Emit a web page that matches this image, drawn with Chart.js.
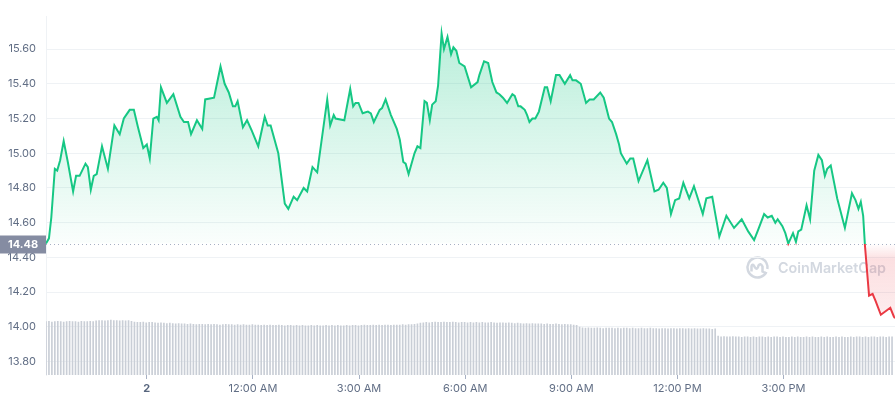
<!DOCTYPE html>
<html>
<head>
<meta charset="utf-8">
<script src="https://cdn.jsdelivr.net/npm/chart.js@4.4.1/dist/chart.umd.min.js"></script>
<style>
  html, body { margin: 0; padding: 0; background: #fff; }
  #wrap { width: 896px; height: 400px; }
</style>
</head>
<body>
<div id="wrap"><canvas id="priceChart" width="896" height="400"></canvas></div>
<script>
// price samples: minutes since start of the 24h window, price in USD
const minutes = [0, 5, 9, 15, 19, 24, 30, 37, 46, 51, 57, 67, 71, 76, 81, 86, 95, 105, 116, 125,
  132, 142, 149, 156, 165, 171, 176, 182, 188, 191, 195, 205, 216, 228, 234, 241, 246, 256, 265, 270,
  285, 296, 303, 310, 317, 321, 325, 334, 341, 349, 360, 371, 376, 381, 394, 405, 411, 420, 426, 437,
  443, 452, 460, 477, 482, 488, 491, 506, 516, 521, 525, 530, 537, 546, 551, 556, 566, 570, 576, 585,
  595, 600, 606, 610, 615, 625, 630, 635, 642, 646, 651, 655, 661, 665, 671, 675, 681, 687, 691, 696,
  701, 710, 721, 732, 735, 743, 750, 757, 764, 769, 775, 782, 791, 795, 801, 805, 812, 816, 820, 825,
  830, 836, 846, 850, 856, 865, 871, 880, 889, 893, 899, 907, 916, 922, 929, 940, 946, 955, 960, 967,
  972, 975, 985, 991, 996, 1005, 1020, 1032, 1039, 1047, 1053, 1060, 1067, 1074, 1081, 1091, 1099, 1114, 1120, 1130,
  1142, 1154, 1167, 1180, 1191, 1201, 1208, 1218, 1224, 1231, 1237, 1241, 1249, 1254, 1259, 1267, 1272, 1276, 1281, 1290,
  1296, 1303, 1310, 1316, 1321, 1325, 1331, 1342, 1355, 1367, 1373, 1378, 1382, 1386, 1389, 1396, 1402, 1407, 1416, 1424,
  1432, 1438, 1440];
const prices = [14.48, 14.51, 14.63, 14.91, 14.90, 14.96, 15.07, 14.95, 14.78, 14.87, 14.87, 14.94, 14.92, 14.79, 14.87, 14.88, 15.04, 14.91, 15.16, 15.11,
  15.20, 15.25, 15.25, 15.15, 15.03, 15.05, 14.97, 15.20, 15.21, 15.19, 15.38, 15.29, 15.34, 15.21, 15.18, 15.18, 15.11, 15.19, 15.14, 15.31,
  15.32, 15.50, 15.40, 15.35, 15.27, 15.27, 15.30, 15.15, 15.19, 15.13, 15.04, 15.21, 15.16, 15.16, 15.00, 14.71, 14.68, 14.75, 14.73, 14.80,
  14.78, 14.92, 14.89, 15.31, 15.16, 15.22, 15.20, 15.19, 15.37, 15.27, 15.29, 15.29, 15.23, 15.24, 15.23, 15.18, 15.25, 15.26, 15.31, 15.22,
  15.14, 15.08, 14.95, 14.94, 14.88, 15.00, 15.04, 15.03, 15.30, 15.29, 15.19, 15.28, 15.30, 15.39, 15.69, 15.60, 15.67, 15.57, 15.61, 15.59,
  15.52, 15.50, 15.38, 15.41, 15.45, 15.53, 15.52, 15.41, 15.35, 15.34, 15.32, 15.29, 15.34, 15.33, 15.27, 15.27, 15.25, 15.22, 15.18, 15.20,
  15.20, 15.24, 15.38, 15.38, 15.30, 15.45, 15.45, 15.40, 15.45, 15.42, 15.42, 15.40, 15.29, 15.31, 15.31, 15.35, 15.32, 15.20, 15.18, 15.11,
  15.05, 15.00, 14.94, 14.97, 14.97, 14.84, 14.96, 14.78, 14.79, 14.83, 14.80, 14.65, 14.73, 14.74, 14.83, 14.74, 14.81, 14.65, 14.74, 14.75,
  14.52, 14.64, 14.57, 14.62, 14.55, 14.50, 14.56, 14.65, 14.63, 14.64, 14.60, 14.62, 14.58, 14.54, 14.48, 14.54, 14.49, 14.55, 14.56, 14.70,
  14.62, 14.90, 14.99, 14.96, 14.87, 14.91, 14.93, 14.74, 14.57, 14.77, 14.73, 14.68, 14.72, 14.64, 14.47, 14.18, 14.19, 14.15, 14.07, 14.09,
  14.11, 14.06, 14.05];
// volume per 5-minute bucket (relative units), 288 buckets
const volumes = [
  1.40, 1.41, 1.39, 1.40, 1.41, 1.40, 1.39, 1.40, 1.41, 1.40, 1.40, 1.39, 1.41, 1.40, 1.40, 1.41, 1.40, 1.42, 1.43, 1.43, 1.42, 1.43, 1.44, 1.43,
  1.43, 1.42, 1.43, 1.42, 1.43, 1.41, 1.39, 1.38, 1.38, 1.39, 1.37, 1.38, 1.38, 1.37, 1.36, 1.37, 1.36, 1.35, 1.36, 1.35, 1.34, 1.35, 1.34, 1.34,
  1.33, 1.34, 1.33, 1.32, 1.33, 1.33, 1.32, 1.33, 1.32, 1.33, 1.32, 1.31, 1.32, 1.33, 1.32, 1.32, 1.31, 1.32, 1.31, 1.32, 1.31, 1.31, 1.32, 1.31,
  1.31, 1.30, 1.31, 1.30, 1.31, 1.30, 1.30, 1.31, 1.30, 1.29, 1.30, 1.30, 1.29, 1.30, 1.29, 1.30, 1.29, 1.29, 1.30, 1.29, 1.30, 1.29, 1.29, 1.30,
  1.29, 1.30, 1.29, 1.30, 1.29, 1.29, 1.30, 1.29, 1.30, 1.30, 1.29, 1.30, 1.31, 1.30, 1.30, 1.31, 1.30, 1.31, 1.30, 1.31, 1.31, 1.30, 1.31, 1.31,
  1.31, 1.32, 1.31, 1.32, 1.32, 1.33, 1.34, 1.36, 1.37, 1.38, 1.37, 1.38, 1.39, 1.38, 1.38, 1.39, 1.38, 1.38, 1.39, 1.38, 1.37, 1.38, 1.38, 1.37,
  1.38, 1.37, 1.38, 1.37, 1.38, 1.37, 1.37, 1.38, 1.37, 1.36, 1.37, 1.37, 1.36, 1.37, 1.36, 1.35, 1.36, 1.35, 1.34, 1.35, 1.34, 1.35, 1.34, 1.34,
  1.34, 1.33, 1.34, 1.33, 1.33, 1.34, 1.33, 1.32, 1.33, 1.32, 1.32, 1.31, 1.30, 1.26, 1.24, 1.23, 1.24, 1.23, 1.23, 1.24, 1.23, 1.22, 1.23, 1.23,
  1.23, 1.22, 1.23, 1.22, 1.23, 1.23, 1.22, 1.23, 1.22, 1.22, 1.23, 1.22, 1.22, 1.23, 1.22, 1.22, 1.21, 1.22, 1.22, 1.21, 1.22, 1.22, 1.21, 1.22,
  1.22, 1.21, 1.22, 1.21, 1.22, 1.21, 1.21, 1.22, 1.21, 1.21, 1.20, 1.21, 1.02, 1.00, 1.01, 1.00, 1.00, 1.01, 1.00, 1.00, 0.99, 1.00, 1.00, 0.99,
  1.00, 0.99, 1.00, 1.00, 0.99, 1.00, 0.99, 1.00, 1.00, 0.99, 1.00, 0.99, 0.99, 1.00, 0.99, 1.00, 0.99, 0.99, 1.00, 0.99, 1.00, 0.99, 0.99, 1.00,
  0.99, 1.00, 0.99, 0.99, 1.00, 0.99, 1.00, 0.99, 0.99, 1.00, 0.99, 1.00, 1.00, 0.99, 1.00, 0.99, 1.00, 1.00, 0.99, 1.00, 1.00, 0.99, 1.00, 1.00
];
const openPrice = 14.48;
const yTicks = [13.8, 14.0, 14.2, 14.4, 14.6, 14.8, 15.0, 15.2, 15.4, 15.6];
const xTickMinutes = [171, 351, 531, 711, 891, 1071, 1251];
const xTickLabels = ['2', '12:00 AM', '3:00 AM', '6:00 AM', '9:00 AM', '12:00 PM', '3:00 PM'];

const GREEN = '#16c784';
const RED = '#ea3943';

// dotted open-price line + label box on the y axis
const openLine = {
  id: 'openLine',
  afterDatasetsDraw(chart) {
    const c = chart.ctx;
    const area = chart.chartArea;
    const y = Math.round(chart.scales.y.getPixelForValue(openPrice)) + 0.5;
    c.save();
    c.strokeStyle = '#a6b0c3';
    c.lineWidth = 1;
    c.setLineDash([1, 3]);
    c.beginPath();
    c.moveTo(area.left, y);
    c.lineTo(area.right, y);
    c.stroke();
    c.setLineDash([]);
    c.fillStyle = '#858ca2';
    c.fillRect(0, y - 9, area.left, 18);
    c.fillStyle = '#fff';
    c.font = 'bold 11px Inter';
    c.textAlign = 'center';
    c.textBaseline = 'middle';
    c.fillText(openPrice.toFixed(2), area.left / 2, y + 0.5);
    c.restore();
  }
};

// CoinMarketCap watermark
const watermark = {
  id: 'watermark',
  beforeDraw(chart) {
    const c = chart.ctx;
    const cx = 757.5, cy = 267.5;
    c.save();
    c.strokeStyle = '#d3d8e0';
    c.lineWidth = 2.5;
    c.beginPath();
    c.arc(cx, cy, 10, 0.15 * Math.PI, 2.05 * Math.PI);
    c.stroke();
    c.beginPath();
    c.moveTo(cx - 6, cy + 4);
    c.lineTo(cx - 6, cy - 1);
    c.quadraticCurveTo(cx - 5, cy - 5, cx - 2.5, cy);
    c.quadraticCurveTo(cx, cy + 3, cx + 1, cy - 2);
    c.quadraticCurveTo(cx + 3, cy - 5, cx + 5, cy - 1);
    c.lineTo(cx + 5, cy + 4);
    c.lineTo(cx + 9, cy + 6);
    c.stroke();
    c.fillStyle = '#d3d8e0';
    let size = 17;
    c.font = '600 ' + size + 'px Inter';
    const w = c.measureText('CoinMarketCap').width;
    size = size * 108 / w;
    c.font = '600 ' + size.toFixed(1) + 'px Inter';
    c.textBaseline = 'middle';
    c.fillText('CoinMarketCap', 778, cy + 1);
    c.restore();
  }
};

const ctx = document.getElementById('priceChart').getContext('2d');
const chart = new Chart(ctx, {
  data: {
    datasets: [
      {
        type: 'line',
        data: minutes.map((m, i) => ({ x: m, y: prices[i] })),
        yAxisID: 'y',
        borderColor: GREEN,
        borderWidth: 2,
        pointRadius: 0,
        tension: 0,
        fill: { target: { value: openPrice }, above: 'rgba(22,199,132,0.15)', below: 'rgba(234,57,67,0.12)' },
        order: 1
      },
      {
        type: 'bar',
        data: volumes.map((v, i) => ({ x: i * 5, y: v })),
        yAxisID: 'yv',
        backgroundColor: '#c9ced6',
        barThickness: 1,
        order: 2
      }
    ]
  },
  options: {
    responsive: false,
    animation: false,
    layout: { padding: 0 },
    plugins: { legend: { display: false }, tooltip: { enabled: false } },
    scales: {
      x: {
        type: 'linear',
        offset: false,
        min: 0,
        max: 1440,
        afterBuildTicks: axis => { axis.ticks = xTickMinutes.map(v => ({ value: v })); },
        afterFit: axis => { axis.height = 25; },
        ticks: {
          autoSkip: false,
          maxRotation: 0,
          padding: 3,
          color: c => (c.tick && c.tick.value === 171 ? '#58667e' : '#616e85'),
          font: c => ({ family: 'Inter', size: 11, weight: c.tick && c.tick.value === 171 ? 'bold' : 'normal' }),
          callback: v => xTickLabels[xTickMinutes.indexOf(v)]
        },
        grid: { drawOnChartArea: false, tickLength: 4, color: '#a6b0c3', offset: false },
        border: { display: false }
      },
      y: {
        min: 13.723,
        max: 15.787,
        afterBuildTicks: axis => { axis.ticks = yTicks.map(v => ({ value: v })); },
        afterFit: axis => { axis.width = 46; },
        ticks: {
          padding: 10,
          color: '#616e85',
          font: { family: 'Inter', size: 11 },
          callback: v => v.toFixed(2)
        },
        grid: { color: '#eff2f5', drawTicks: false },
        border: { color: '#eff2f5' }
      },
      yv: { display: false, min: 0, max: 9.4 }
    }
  },
  plugins: [watermark, openLine]
});

// gradients need the laid-out chart area, so apply them after the first render
(function applyGradients() {
  const area = chart.chartArea;
  const yb = chart.scales.y.getPixelForValue(openPrice);
  const h = area.bottom - area.top;
  const r = (yb - area.top) / h;
  const stroke = ctx.createLinearGradient(0, area.top, 0, area.bottom);
  stroke.addColorStop(0, GREEN);
  stroke.addColorStop(r, GREEN);
  stroke.addColorStop(r, RED);
  stroke.addColorStop(1, RED);
  const up = ctx.createLinearGradient(0, area.top, 0, yb);
  up.addColorStop(0, 'rgba(22,199,132,0.32)');
  up.addColorStop(1, 'rgba(22,199,132,0.02)');
  const down = ctx.createLinearGradient(0, yb, 0, area.bottom);
  down.addColorStop(0, 'rgba(234,57,67,0.0)');
  down.addColorStop(0.12, 'rgba(234,57,67,0.16)');
  down.addColorStop(1, 'rgba(234,57,67,0.02)');
  const ds = chart.data.datasets[0];
  ds.borderColor = stroke;
  ds.fill = { target: { value: openPrice }, above: up, below: down };
  chart.update('none');
})();
</script>
</body>
</html>
